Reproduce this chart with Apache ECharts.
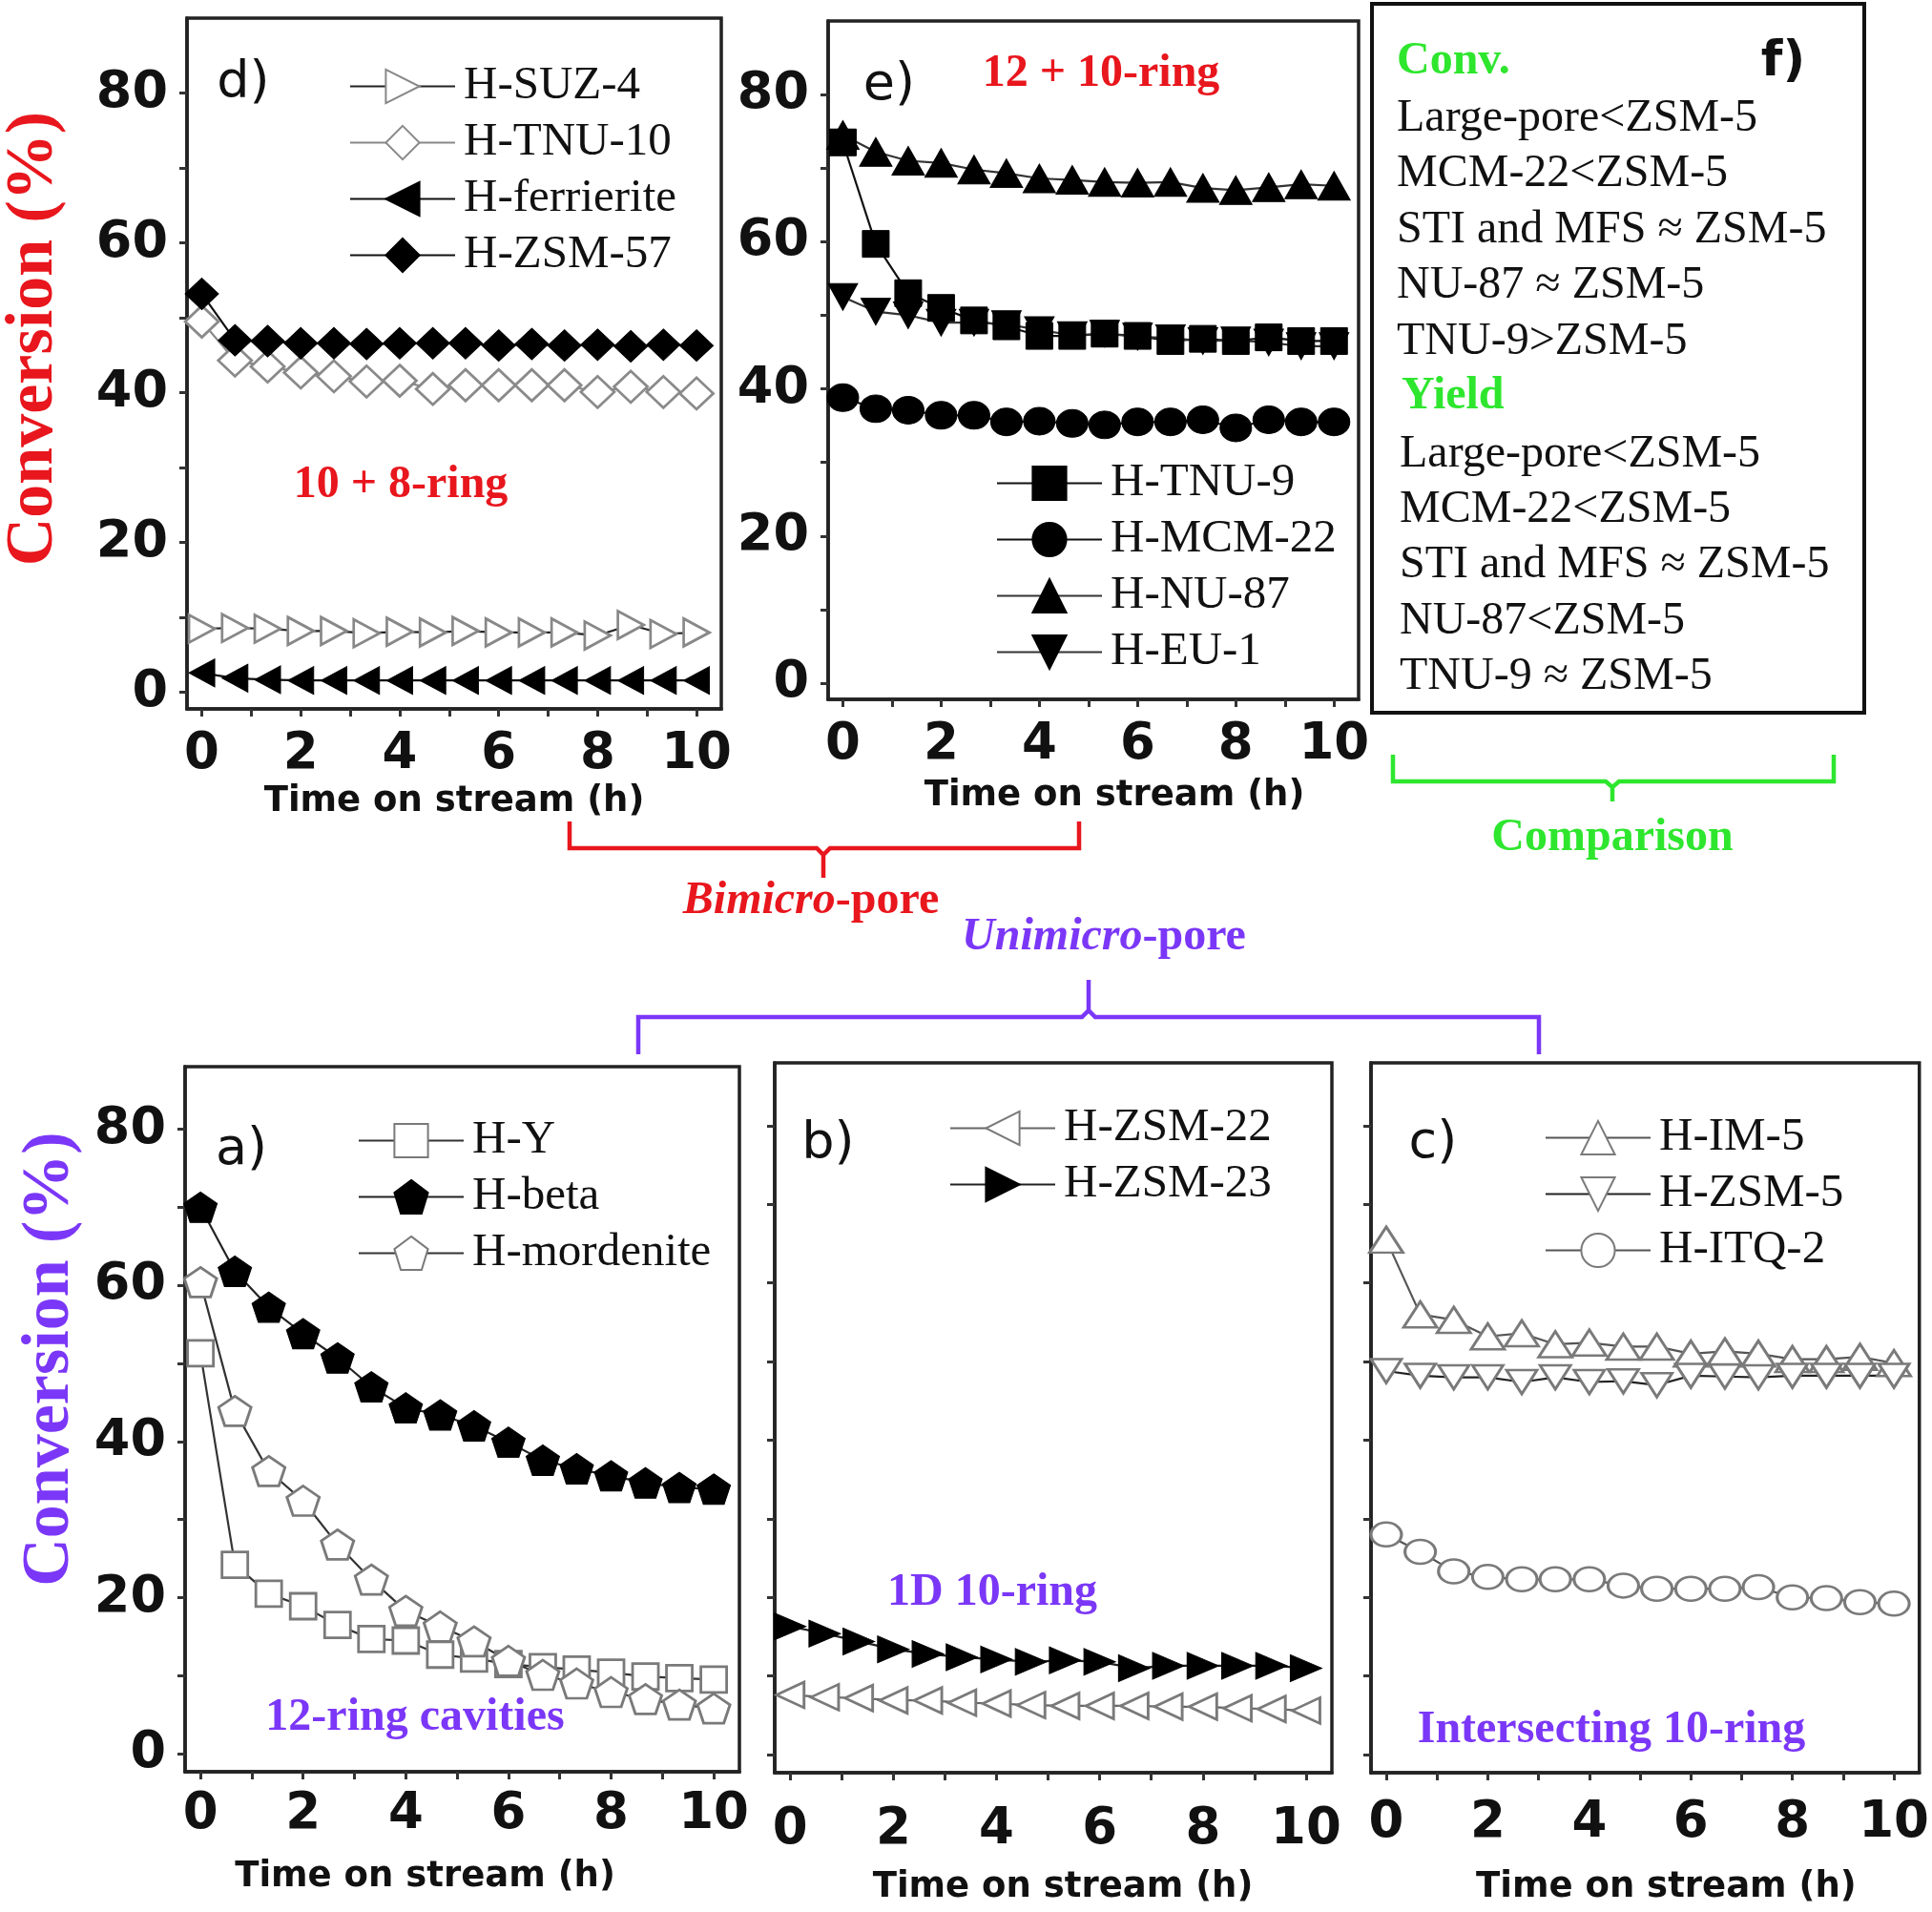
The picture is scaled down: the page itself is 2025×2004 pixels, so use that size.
<!DOCTYPE html>
<html><head><meta charset="utf-8">
<script src="https://cdn.jsdelivr.net/npm/echarts@6/dist/echarts.min.js"></script>
<style>html,body{margin:0;padding:0;background:#fff}#c{width:2025px;height:2004px}</style>
</head><body><div id="c"></div>
<script>
// ---- data ----
const time = [0, 0.67, 1.33, 2, 2.67, 3.33, 4, 4.67, 5.33, 6, 6.67, 7.33, 8, 8.67, 9.33, 10];
const xLabelValues = [0, 2, 4, 6, 8, 10];
const xTickValues = [0, 1, 2, 3, 4, 5, 6, 7, 8, 9, 10];
const yLabelValues = [0, 20, 40, 60, 80];
const yTickValues = [0, 10, 20, 30, 40, 50, 60, 70, 80];
// panel d (10 + 8-ring)
const hSUZ4 = [8.5, 8.6, 8.5, 8.2, 8.2, 7.9, 8.1, 8.0, 8.2, 8.0, 8.0, 8.0, 7.6, 9.0, 7.8, 8.0];
const hTNU10 = [49.5, 44.3, 43.5, 42.7, 42.2, 41.5, 41.6, 40.5, 41.0, 41.0, 41.0, 41.0, 40.1, 40.8, 40.1, 39.9];
const hFerrierite = [2.6, 1.9, 1.7, 1.6, 1.6, 1.6, 1.6, 1.6, 1.6, 1.6, 1.6, 1.6, 1.6, 1.6, 1.6, 1.6];
const hZSM57 = [53.2, 47.0, 46.9, 46.6, 46.6, 46.5, 46.6, 46.6, 46.6, 46.3, 46.5, 46.3, 46.4, 46.2, 46.4, 46.3];
// panel e (12 + 10-ring)
const hTNU9 = [73.5, 59.7, 53.0, 51.0, 49.3, 48.5, 47.2, 47.2, 47.5, 47.2, 46.5, 46.8, 46.5, 47.0, 46.5, 46.5];
const hMCM22 = [38.8, 37.3, 37.1, 36.4, 36.4, 35.5, 35.6, 35.3, 35.1, 35.5, 35.5, 35.8, 34.7, 35.8, 35.5, 35.5];
const hNU87 = [74.5, 72.2, 71.0, 70.7, 69.8, 69.3, 68.6, 68.4, 68.1, 68.0, 68.1, 67.3, 67.0, 67.4, 67.8, 67.6];
const hEU1 = [52.5, 50.5, 50.0, 49.0, 49.0, 48.8, 48.0, 47.3, 47.5, 47.1, 46.9, 46.5, 46.6, 46.3, 45.8, 45.8];
// panel a (12-ring cavities)
const hY = [51.3, 24.2, 20.5, 18.9, 16.5, 14.7, 14.5, 12.7, 12.2, 11.5, 11.1, 10.8, 10.4, 9.9, 9.7, 9.5];
const hBeta = [70.0, 61.8, 57.2, 53.8, 50.7, 47.0, 44.3, 43.4, 42.0, 39.9, 37.6, 36.5, 35.6, 34.7, 34.1, 33.9];
const hMordenite = [60.4, 43.9, 36.2, 32.4, 26.8, 22.3, 18.3, 16.3, 14.4, 11.9, 10.1, 9.0, 7.9, 7.0, 6.3, 5.8];
// panel b (1D 10-ring)
const hZSM22 = [7.6, 7.3, 7.2, 6.9, 6.9, 6.6, 6.5, 6.3, 6.2, 6.2, 6.2, 6.1, 6.1, 5.9, 5.8, 5.6];
const hZSM23 = [16.3, 15.4, 14.4, 13.4, 12.8, 12.4, 12.1, 11.8, 12.0, 11.8, 11.0, 11.3, 11.3, 11.3, 11.3, 11.0];
// panel c (intersecting 10-ring)
const hIM5 = [65.5, 56.0, 55.3, 53.2, 53.6, 52.2, 52.4, 51.9, 51.9, 51.0, 51.3, 51.0, 50.3, 50.3, 50.6, 49.8];
const hZSM5 = [48.8, 48.2, 48.0, 48.0, 47.4, 48.0, 47.4, 47.5, 47.0, 48.2, 48.1, 48.0, 48.2, 48.2, 48.2, 48.2];
const hITQ2 = [28.0, 25.8, 23.3, 22.6, 22.3, 22.3, 22.3, 21.5, 21.1, 21.1, 21.1, 21.3, 20.0, 19.9, 19.4, 19.2];
// panel f texts
const convLines = ['Large-pore<ZSM-5', 'MCM-22<ZSM-5', 'STI and MFS \u2248 ZSM-5', 'NU-87 \u2248 ZSM-5', 'TNU-9>ZSM-5'];
const yieldLines = ['Large-pore<ZSM-5', 'MCM-22<ZSM-5', 'STI and MFS \u2248 ZSM-5', 'NU-87<ZSM-5', 'TNU-9 \u2248 ZSM-5'];

// ---- styling ----
const SANS = 'DejaVu Sans', SERIF = 'Liberation Serif';
const RED = '#e8161d', PURPLE = '#7b37f7', GREEN = '#2ee62e';
const SYM = {
  right: 'path://M0,0L10,5L0,10Z',
  left: 'path://M10,0L0,5L10,10Z',
  down: 'path://M0,0L10,0L5,10Z',
  pent: 'path://M5,0L10,3.6L8.1,9.6L1.9,9.6L0,3.6Z'
};
const zip = v => v.map((y, i) => [time[i], y]);

const gridDefs = [
  {left: 187, top: 19, width: 569, height: 724, ymin: -2.2, ymax: 90},   // d
  {left: 868, top: 22, width: 556, height: 711, ymin: -2.2, ymax: 90},   // e
  {left: 194, top: 1118, width: 581, height: 739, ymin: -2.3, ymax: 88}, // a
  {left: 812, top: 1114, width: 584, height: 744, ymin: -2.3, ymax: 88}, // b
  {left: 1437, top: 1114, width: 579, height: 744, ymin: -2.3, ymax: 88} // c
];
const xLabelMargin = [22, 22, 19, 34, 27];
const xNameGap = [79, 83, 92, 102, 102];
const xNamePad = [[0,0,0,0], [0,0,0,44], [0,78,0,0], [0,0,0,20], [0,0,0,44]];
const showYLabels = [true, true, true, false, false];

const grid = gridDefs.map(g => ({left: g.left, top: g.top, width: g.width, height: g.height,
  show: true, borderColor: '#222', borderWidth: 3.5, backgroundColor: '#fff'}));

const xAxis = gridDefs.map((g, i) => ({
  type: 'value', gridIndex: i, min: -0.3, max: 10.5,
  axisLine: {show: true, onZero: false, lineStyle: {color: '#222', width: 3.5}},
  axisTick: {show: true, customValues: xTickValues, length: 8, lineStyle: {color: '#333', width: 3}},
  axisLabel: {customValues: xLabelValues, fontFamily: SANS, fontWeight: 'bold', fontSize: 53, color: '#111', margin: xLabelMargin[i]},
  splitLine: {show: false},
  name: 'Time on stream (h)', nameLocation: 'middle', nameGap: xNameGap[i],
  nameTextStyle: {fontFamily: SANS, fontWeight: 'bold', fontSize: 37, color: '#111', padding: xNamePad[i]}
}));

const yAxis = gridDefs.map((g, i) => {
  const ax = {
    type: 'value', gridIndex: i, min: g.ymin, max: g.ymax,
    axisLine: {show: true, onZero: false, lineStyle: {color: '#222', width: 3.5}},
    axisTick: {show: true, customValues: yTickValues, length: 8, lineStyle: {color: '#333', width: 3}},
    axisLabel: {show: showYLabels[i], customValues: yLabelValues, fontFamily: SANS, fontWeight: 'bold', fontSize: 54, color: '#111', margin: 20},
    splitLine: {show: false}
  };
  if (i === 0 || i === 2) {
    ax.name = 'Conversion (%)';
    ax.nameLocation = 'middle';
    ax.nameGap = i === 0 ? 125 : 106;
    ax.nameTextStyle = {fontFamily: SERIF, fontWeight: 'bold', fontSize: 70, color: i === 0 ? RED : PURPLE,
      padding: i === 0 ? [0, 0, 0, 52] : [0, 0, 0, 126]};
  }
  return ax;
});

function S(name, gi, vals, symbol, size, filled, markerColor, lineColor) {
  return {
    type: 'line', name, xAxisIndex: gi, yAxisIndex: gi, data: zip(vals),
    symbol, symbolSize: size, showAllSymbol: true,
    itemStyle: filled ? {color: markerColor, borderColor: markerColor, borderWidth: 1}
                      : {color: '#fff', borderColor: markerColor, borderWidth: 2.8},
    lineStyle: {color: lineColor, width: 2.2},
    emphasis: {disabled: true}
  };
}

const series = [
  // d
  S('H-SUZ-4', 0, hSUZ4, SYM.right, [27, 29], false, '#888', '#222'),
  S('H-TNU-10', 0, hTNU10, 'diamond', [35, 33], false, '#8a8a8a', '#888'),
  S('H-ferrierite', 0, hFerrierite, SYM.left, [27, 29], true, '#000', '#111'),
  S('H-ZSM-57', 0, hZSM57, 'diamond', [35, 33], true, '#000', '#111'),
  // e
  S('H-TNU-9', 1, hTNU9, 'rect', [28, 28], true, '#000', '#111'),
  S('H-MCM-22', 1, hMCM22, 'circle', [33, 29], true, '#000', '#111'),
  S('H-NU-87', 1, hNU87, 'triangle', [34, 30], true, '#000', '#333'),
  S('H-EU-1', 1, hEU1, SYM.down, [31, 28], true, '#000', '#333'),
  // a
  S('H-Y', 2, hY, 'rect', [27, 27], false, '#7a7a7a', '#333'),
  S('H-beta', 2, hBeta, SYM.pent, [35, 32], true, '#000', '#222'),
  S('H-mordenite', 2, hMordenite, SYM.pent, [34, 31], false, '#7a7a7a', '#333'),
  // b
  S('H-ZSM-22', 3, hZSM22, SYM.left, [29, 27], false, '#7a7a7a', '#666'),
  S('H-ZSM-23', 3, hZSM23, SYM.right, [33, 28], true, '#000', '#222'),
  // c
  S('H-IM-5', 4, hIM5, 'triangle', [35, 27], false, '#7a7a7a', '#555'),
  S('H-ZSM-5', 4, hZSM5, SYM.down, [32, 25], false, '#7a7a7a', '#222'),
  S('H-ITQ-2', 4, hITQ2, 'circle', [32, 25], false, '#7a7a7a', '#555')
];

function L(names, left, top) {
  return {data: names, orient: 'vertical', left, top, padding: 0, itemWidth: 110, itemHeight: 44, itemGap: 10,
    selectedMode: false, textStyle: {fontFamily: SERIF, fontSize: 49, lineHeight: 44, color: '#111', padding: [0, 0, 0, 4]}};
}
const legend = [
  L(['H-SUZ-4', 'H-TNU-10', 'H-ferrierite', 'H-ZSM-57'], 366, 66),
  L(['H-TNU-9', 'H-MCM-22', 'H-NU-87', 'H-EU-1'], 1044, 482),
  L(['H-Y', 'H-beta', 'H-mordenite'], 375, 1171),
  L(['H-ZSM-22', 'H-ZSM-23'], 995, 1158),
  L(['H-IM-5', 'H-ZSM-5', 'H-ITQ-2'], 1619, 1168)
];

function T(text, x, y, font, fill, align) {
  return {type: 'text', z: 100, style: {text, x, y, font, fill, align: align || 'center', verticalAlign: 'middle'}};
}
function brace(points, color) {
  return {type: 'polyline', z: 100, shape: {points}, style: {stroke: color, lineWidth: 4.5, fill: null}};
}
const boldSerif48 = 'bold 48px "Liberation Serif"';
const elements = [
  // panel f box
  {type: 'rect', z: 90, shape: {x: 1438, y: 4, width: 516, height: 743}, style: {fill: '#fff', stroke: '#111', lineWidth: 4}},
  T('Conv.', 1464, 65, boldSerif48, GREEN, 'left'),
  T('Yield', 1469, 416, boldSerif48, GREEN, 'left'),
  T('f)', 1869, 65, 'bold 52px "DejaVu Sans"', '#111'),
  // panel labels
  T('d)', 255, 88, '54px "DejaVu Sans"', '#111'),
  T('e)', 932, 90, '54px "DejaVu Sans"', '#111'),
  T('a)', 253, 1206, '54px "DejaVu Sans"', '#111'),
  T('b)', 868, 1200, '54px "DejaVu Sans"', '#111'),
  T('c)', 1502, 1199, '54px "DejaVu Sans"', '#111'),
  // in-plot annotations
  T('10 + 8-ring', 420, 509, boldSerif48, RED),
  T('12 + 10-ring', 1154, 78, boldSerif48, RED),
  T('12-ring cavities', 435, 1801, boldSerif48, PURPLE),
  T('1D 10-ring', 1040, 1670, boldSerif48, PURPLE),
  T('Intersecting 10-ring', 1689, 1814, boldSerif48, PURPLE),
  // braces
  brace([[597, 861], [597, 889], [856, 889], [863, 896], [863, 920], [863, 896], [870, 889], [1131, 889], [1131, 861]], RED),
  brace([[1460, 791], [1460, 819], [1683, 819], [1690, 825], [1690, 840], [1690, 825], [1697, 819], [1922, 819], [1922, 791]], GREEN),
  brace([[669, 1105], [669, 1066], [1134, 1066], [1141, 1059], [1141, 1027], [1141, 1059], [1148, 1066], [1613, 1066], [1613, 1105]], PURPLE),
  T('Comparison', 1690, 879, boldSerif48, GREEN),
  {type: 'text', z: 100, style: {x: 850, y: 945, align: 'center', verticalAlign: 'middle',
    text: '{i|Bimicro}{n|-pore}',
    rich: {i: {fontFamily: SERIF, fontStyle: 'italic', fontWeight: 'bold', fontSize: 48, fill: RED, color: RED},
           n: {fontFamily: SERIF, fontWeight: 'bold', fontSize: 48, fill: RED, color: RED}}}},
  {type: 'text', z: 100, style: {x: 1157, y: 983, align: 'center', verticalAlign: 'middle',
    text: '{i|Unimicro}{n|-pore}',
    rich: {i: {fontFamily: SERIF, fontStyle: 'italic', fontWeight: 'bold', fontSize: 48, fill: PURPLE, color: PURPLE},
           n: {fontFamily: SERIF, fontWeight: 'bold', fontSize: 48, fill: PURPLE, color: PURPLE}}}}
];
convLines.forEach((t, i) => elements.push(T(t, 1464, 124 + i * 58.5, '48px "Liberation Serif"', '#111', 'left')));
yieldLines.forEach((t, i) => elements.push(T(t, 1467, 476 + i * 58.3, '48px "Liberation Serif"', '#111', 'left')));

const chart = echarts.init(document.getElementById('c'), null, {renderer: 'canvas'});
chart.setOption({
  animation: false,
  backgroundColor: '#fff',
  grid, xAxis, yAxis, series, legend,
  graphic: {elements}
});
</script>
</body></html>
